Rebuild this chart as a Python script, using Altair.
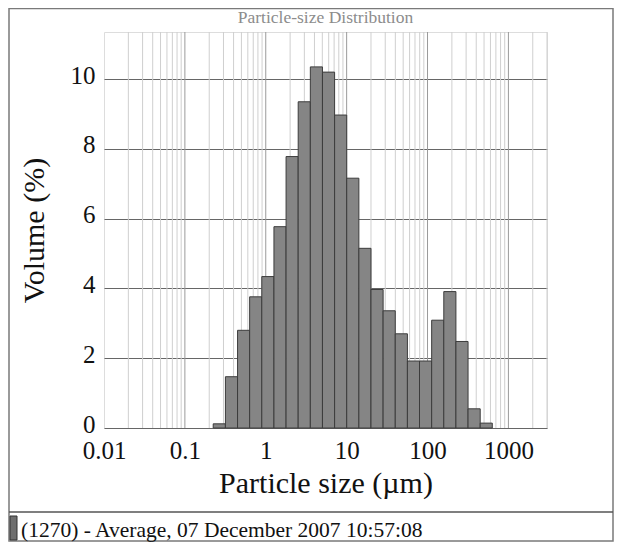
import altair as alt
import pandas as pd

# ---- data ----
bin_lower = [0.224, 0.317, 0.448, 0.632, 0.893, 1.262, 1.783, 2.518, 3.557, 5.024,
             7.096, 10.02, 14.16, 20.0, 28.25, 39.9, 56.4, 79.6, 112.5, 158.9,
             224.4, 317.0, 448.0]
bin_upper = [0.317, 0.448, 0.632, 0.893, 1.262, 1.783, 2.518, 3.557, 5.024, 7.096,
             10.02, 14.16, 20.0, 28.25, 39.9, 56.4, 79.6, 112.5, 158.9, 224.4,
             317.0, 448.0, 632.0]
volume = [0.12, 1.47, 2.8, 3.76, 4.34, 5.77, 7.78, 9.35, 10.35, 10.2,
          8.97, 7.16, 5.15, 3.97, 3.36, 2.7, 1.92, 1.92, 3.09, 3.91,
          2.48, 0.55, 0.14]
x_ticks = [0.01, 0.1, 1, 10, 100, 1000]
y_ticks = [0, 2, 4, 6, 8, 10]
minor_grid = [m * 10.0 ** e for e in range(-2, 4) for m in range(2, 10) if m * 10.0 ** e <= 3000]
legend_text = "(1270) - Average, 07 December 2007 10:57:08"
title_text = "Particle-size Distribution"

FONT = "Liberation Serif"
W, H = 443, 396

df = pd.DataFrame({"lo": bin_lower, "hi": bin_upper, "vol": volume})

xscale = alt.Scale(type="log", domain=[0.01, 3000], nice=False)
yscale = alt.Scale(domain=[0, 11.35], nice=False)

bars = alt.Chart(df).mark_rect(fill="#858585", stroke="#3c3c3c", strokeWidth=1).encode(
    x=alt.X("lo:Q", scale=xscale,
            axis=alt.Axis(values=x_ticks, format="~g", grid=False, ticks=False, domain=False,
                          labelFlush=False, labelOverlap=False,
                          labelFont=FONT, labelFontSize=25, labelColor="#111", labelPadding=10,
                          title="Particle size (µm)", titleFont=FONT, titleFontSize=30,
                          titleFontWeight="normal", titleColor="#111",
                          titleX=W / 2, titleY=64, titleBaseline="alphabetic", titleAlign="center")),
    x2="hi:Q",
    y=alt.Y("vol:Q", scale=yscale,
            axis=alt.Axis(values=y_ticks, grid=True, gridColor="#666", gridWidth=1,
                          ticks=False, domain=False, labelFlush=False,
                          labelFont=FONT, labelFontSize=25, labelColor="#111", labelPadding=9,
                          labelBaseline="middle", labelOffset=-4,
                          title="Volume (%)", titleFont=FONT, titleFontSize=30,
                          titleFontWeight="normal", titleColor="#111",
                          titleAngle=-90, titleX=-70, titleY=H / 2,
                          titleBaseline="middle", titleAlign="center")),
    y2=alt.datum(0),
)

major = alt.Chart(pd.DataFrame({"g": x_ticks[1:]})).mark_rule(color="#9a9a9a", strokeWidth=1).encode(
    x=alt.X("g:Q", scale=xscale)
)
minor = alt.Chart(pd.DataFrame({"g": minor_grid})).mark_rule(color="#cfcfcf", strokeWidth=1).encode(
    x=alt.X("g:Q", scale=xscale)
)

one = pd.DataFrame({"t": [legend_text]})
frame = alt.Chart(one).mark_rect(fillOpacity=0, stroke="#7a7a7a", strokeWidth=1.5).encode(
    x=alt.value(-95), x2=alt.value(509), y=alt.value(-23.5), y2=alt.value(509)
)
sep = alt.Chart(one).mark_rule(color="#555", strokeWidth=1.5).encode(
    x=alt.value(-95), x2=alt.value(509), y=alt.value(480)
)
swatch = alt.Chart(one).mark_rect(fill="#6e6e6e", stroke="#333", strokeWidth=1).encode(
    x=alt.value(-94), x2=alt.value(-87), y=alt.value(484), y2=alt.value(508)
)
legend = alt.Chart(one).mark_text(font=FONT, fontSize=21.5, color="#111", align="left",
                                  baseline="alphabetic").encode(
    x=alt.value(-83), y=alt.value(505), text="t:N"
)
title = alt.Chart(pd.DataFrame({"t": [title_text]})).mark_text(
    font=FONT, fontSize=17.5, color="#8c8c8c", align="center", baseline="alphabetic").encode(
    x=alt.value(W / 2), y=alt.value(-9), text="t:N"
)

chart = alt.layer(minor, major, bars, frame, sep, swatch, legend, title).properties(
    width=W, height=H,
    autosize=alt.AutoSizeParams(type="none"),
    padding={"left": 96, "top": 24, "right": 67, "bottom": 114},
).configure_view(stroke="#444", strokeWidth=1.5).configure(background="white")

chart.save("out.html", embed_options={"renderer": "svg", "actions": False})
